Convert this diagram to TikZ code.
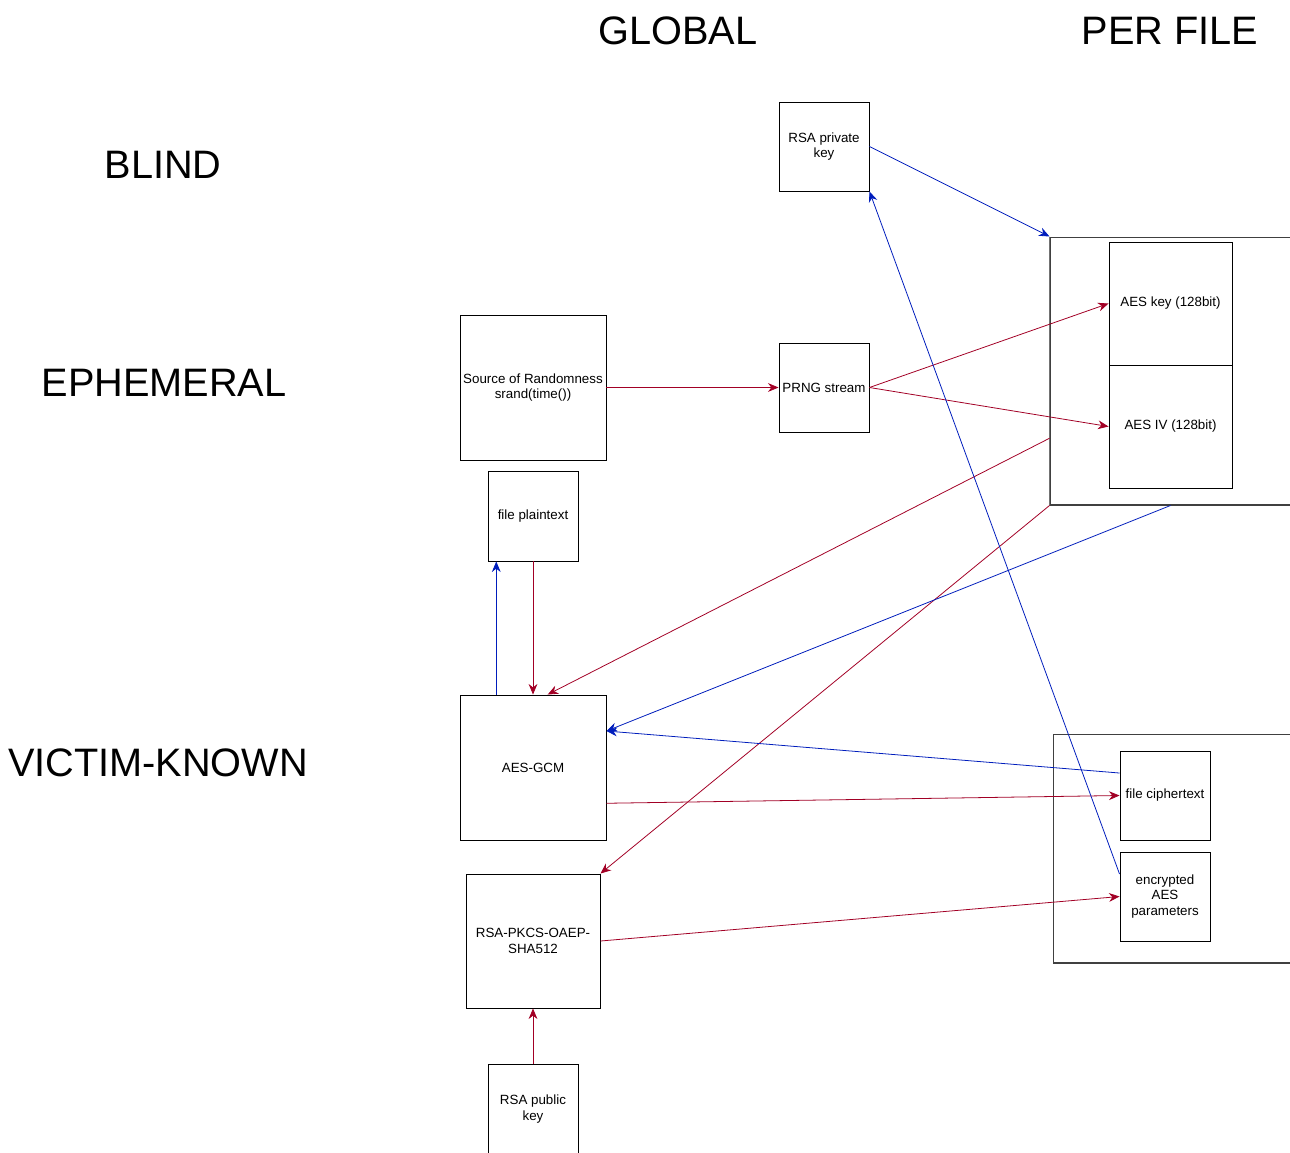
\documentclass[tikz,border=0pt]{standalone}
\usepackage{fontspec}
\setmainfont{Liberation Sans}
\usetikzlibrary{arrows.meta,calc}

\definecolor{keyred}{HTML}{A20025}
\definecolor{keyblue}{HTML}{001DBC}

\begin{document}
\begin{tikzpicture}[x=0.02cm,y=-0.02cm,
    box/.style={draw, line width=0.55pt, fill=white, align=center,
        inner sep=1pt, font=\fontsize{7.6}{9}\selectfont},
    group/.style={draw=black!75, line width=0.6pt},
    title/.style={font=\fontsize{22.6}{26}\selectfont},
    red/.style={draw=keyred, line width=0.45pt, -{Stealth[length=6pt,width=5pt]}},
    blue/.style={draw=keyblue, line width=0.45pt, -{Stealth[length=6pt,width=5pt]}}]
    \useasboundingbox (0,0) rectangle (1290,1152);

    % Column and row titles
    \node[title] (global) at (678,31) {GLOBAL};
    \node[title] (perfiletitle) at (1170,31) {PER FILE};
    \node[title] (blind) at (163,165) {BLIND};
    \node[title] (ephemeral) at (164,383) {EPHEMERAL};
    \node[title] (victim) at (158,763) {VICTIM-KNOWN};

    % Per file groups
    \node[group, minimum width=5.4cm, minimum height=5.36cm] (perfile) at (1185,371) {};
    \draw[draw=black!55, line width=1pt] (perfile.south west) -- (perfile.north west);
    \node[group, minimum width=5.34cm, minimum height=4.58cm] (victimfile) at (1186.5,848.5) {};

    % Global boxes
    \node[box, minimum width=1.8cm, minimum height=1.78cm] (rsapriv) at (824,146.5) {RSA private\\key};
    \node[box, minimum width=2.92cm, minimum height=2.9cm] (rand) at (533,387.5) {Source of Randomness\\srand(time())};
    \node[box, minimum width=1.8cm, minimum height=1.78cm] (prng) at (824,387.5) {PRNG stream};
    \node[box, minimum width=1.8cm, minimum height=1.8cm] (plain) at (533,516) {file plaintext};
    \node[box, minimum width=2.92cm, minimum height=2.9cm] (aesgcm) at (533,767.5) {AES-GCM};
    \node[box, minimum width=2.68cm, minimum height=2.68cm] (rsapkcs) at (533,941) {RSA-PKCS-OAEP-\\SHA512};
    \node[box, minimum width=1.8cm, minimum height=1.8cm] (rsapub) at (533,1109) {RSA public\\key};

    % Per file boxes
    \node[box, minimum width=2.46cm, minimum height=2.46cm] (aeskey) at (1170.5,303.5) {AES key (128bit)};
    \node[box, minimum width=2.46cm, minimum height=2.46cm] (aesiv) at (1170.5,426.5) {AES IV (128bit)};
    \node[box, minimum width=1.8cm, minimum height=1.78cm] (ciph) at (1165,795.5) {file ciphertext};
    \node[box, minimum width=1.8cm, minimum height=1.78cm] (encp) at (1165,896.5) {encrypted\\AES\\parameters};

    % Points on the box borders
    \coordinate (pfleft) at ($(perfile.south west)!0.25!(perfile.north west)$);
    \coordinate (gcmtopl) at ($(aesgcm.north west)!0.25!(aesgcm.north east)$);
    \coordinate (gcmtopr) at ($(aesgcm.north west)!0.6!(aesgcm.north east)$);
    \coordinate (gcmin) at ($(aesgcm.north east)!0.25!(aesgcm.south east)$);
    \coordinate (gcmout) at ($(aesgcm.north east)!0.745!(aesgcm.south east)$);
    \coordinate (ciphout) at ($(ciph.north west)!0.25!(ciph.south west)$);
    \coordinate (encpout) at ($(encp.north west)!0.25!(encp.south west)$);

    % Red arrows
    \draw[red] (rand.east) -- (prng.west);
    \draw[red] (prng.east) -- (aeskey.west);
    \draw[red] (prng.east) -- (aesiv.west);
    \draw[red] (pfleft) -- (gcmtopr);
    \draw[red] (perfile.south west) -- (rsapkcs.north east);
    \draw[red] (gcmout) -- (ciph.west);
    \draw[red] (rsapkcs.east) -- (encp.west);
    \draw[red] (plain.south) -- (aesgcm.north);
    \draw[red] (rsapub.north) -- (rsapkcs.south);

    % Blue arrows
    \draw[blue] (rsapriv.east) -- (perfile.north west);
    \draw[blue] (aesiv.south |- perfile.south) -- (gcmin);
    \draw[blue] (ciphout) -- (gcmin);
    \draw[blue] (encpout) -- (rsapriv.south east);
    \draw[blue] (gcmtopl) -- (gcmtopl |- plain.south);
\end{tikzpicture}
\end{document}
